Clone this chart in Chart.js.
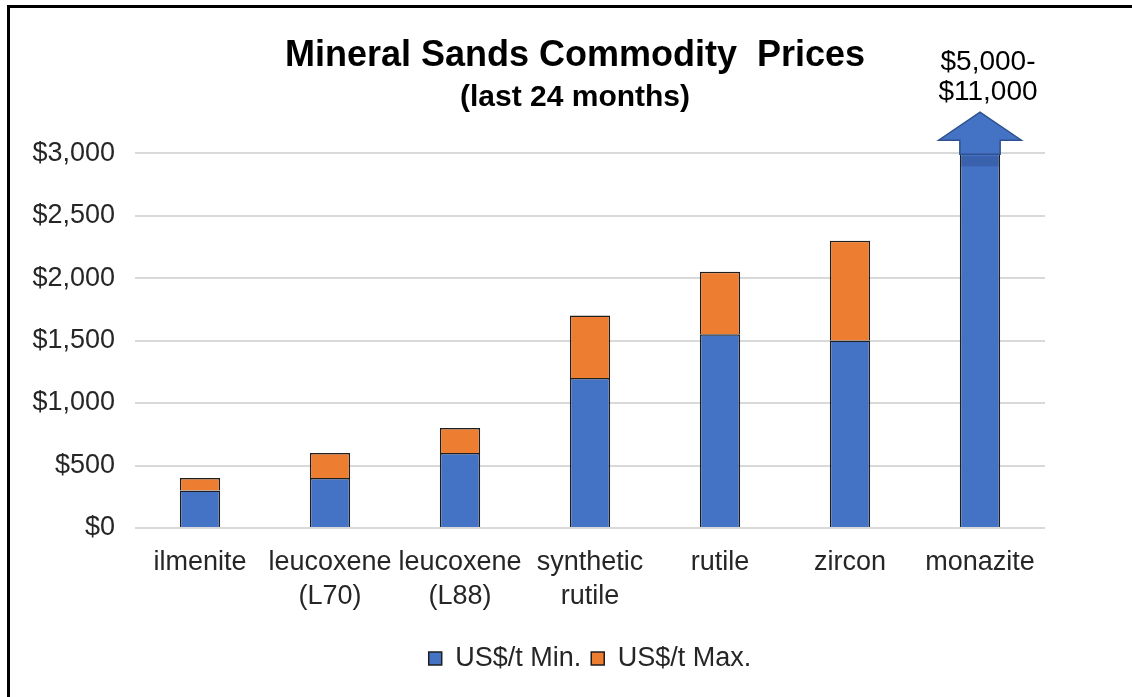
<!DOCTYPE html>
<html>
<head>
<meta charset="utf-8">
<script src="https://cdn.jsdelivr.net/npm/chart.js@4.4.1/dist/chart.umd.min.js"></script>
<style>
  html, body { margin: 0; padding: 0; background: #fff; }
  #wrap { width: 1132px; height: 697px; position: relative; }
</style>
</head>
<body>
<div id="wrap"><canvas id="c" width="1132" height="697"></canvas></div>
<script>
const categories = ['ilmenite', ['leucoxene', '(L70)'], ['leucoxene', '(L88)'], ['synthetic', 'rutile'], 'rutile', 'zircon', 'monazite'];
const minPrices = [300, 400, 600, 1200, 1550, 1500, 5000];
const maxPrices = [400, 600, 800, 1700, 2050, 2300, 11000];
const yTickValues = [0, 500, 1000, 1500, 2000, 2500, 3000];
const seriesNames = ['US$/t Min.', 'US$/t Max.'];
const titleText = 'Mineral Sands Commodity  Prices';
const subtitleText = '(last 24 months)';

const FONT = "'Liberation Sans', Arial, sans-serif";
const BLUE = '#4472C4';
const ORANGE = '#ED7D31';
const fmt = v => '$' + Number(v).toLocaleString('en-US');

const frame = {
  id: 'frame',
  beforeDraw(chart) {
    const ctx = chart.ctx;
    ctx.save();
    ctx.fillStyle = '#fff';
    ctx.fillRect(0, 0, chart.width, chart.height);
    ctx.fillStyle = '#000';
    ctx.fillRect(7, 5, 3, chart.height - 5);
    ctx.fillRect(7, 5, chart.width - 7, 3);
    ctx.restore();
  }
};

const overflowArrow = {
  id: 'overflowArrow',
  afterDatasetsDraw(chart) {
    const meta = chart.getDatasetMeta(0);
    const yScale = chart.scales.y;
    const ctx = chart.ctx;
    meta.data.forEach((bar, i) => {
      if (minPrices[i] <= yScale.max) return;
      const top = chart.chartArea.top;
      const half = bar.width / 2;
      const x = bar.x;
      const headHalf = half * 2.05;
      const shaftTop = top - 13;
      const tip = top - 41;
      ctx.save();
      ctx.beginPath();
      ctx.moveTo(x - half, top + 1);
      ctx.lineTo(x - half, shaftTop);
      ctx.lineTo(x - headHalf, shaftTop);
      ctx.lineTo(x, tip);
      ctx.lineTo(x + headHalf, shaftTop);
      ctx.lineTo(x + half, shaftTop);
      ctx.lineTo(x + half, top + 1);
      ctx.closePath();
      ctx.fillStyle = BLUE;
      ctx.fill();
      ctx.strokeStyle = '#2F528F';
      ctx.lineWidth = 1.5;
      ctx.stroke();
      ctx.fillStyle = 'rgba(40,70,130,0.35)';
      ctx.fillRect(x - half + 1, top + 3, bar.width - 2, 10);
      ctx.fillStyle = '#000';
      ctx.font = '28px ' + FONT;
      ctx.textAlign = 'center';
      ctx.textBaseline = 'middle';
      ctx.fillText(fmt(minPrices[i]) + '-', x + 8, tip - 50);
      ctx.fillText(fmt(maxPrices[i]), x + 8, tip - 20);
      ctx.restore();
    });
  }
};

new Chart(document.getElementById('c'), {
  type: 'bar',
  data: {
    labels: categories,
    datasets: [
      {
        label: seriesNames[0],
        data: minPrices,
        backgroundColor: BLUE,
        borderColor: '#1f1f1f',
        borderWidth: 1.5,
        grouped: false,
        clip: 0
      },
      {
        label: seriesNames[1],
        data: minPrices.map((m, i) => [m, maxPrices[i]]),
        backgroundColor: ORANGE,
        borderColor: '#1f1f1f',
        borderWidth: 1.5,
        grouped: false,
        clip: 0
      }
    ]
  },
  options: {
    responsive: false,
    animation: false,
    devicePixelRatio: 1,
    categoryPercentage: 1,
    barPercentage: 0.31,
    layout: { padding: { left: 18, right: 0, top: 10, bottom: 15 } },
    plugins: {
      title: {
        display: true,
        text: titleText,
        color: '#000',
        font: { family: FONT, size: 36, weight: 'bold' },
        padding: { top: 24, bottom: 0 }
      },
      subtitle: {
        display: true,
        text: subtitleText,
        color: '#000',
        font: { family: FONT, size: 30, weight: 'bold' },
        padding: { top: 3, bottom: 37 }
      },
      legend: {
        position: 'bottom',
        fullSize: false,
        labels: {
          color: '#262626',
          font: { family: FONT, size: 27 },
          boxWidth: 13,
          boxHeight: 13,
          padding: 10
        }
      },
      tooltip: { enabled: false }
    },
    scales: {
      x: {
        grid: { display: false },
        border: { display: false },
        ticks: {
          color: '#262626',
          font: { family: FONT, size: 27, lineHeight: 1.26 },
          padding: 10,
          maxRotation: 0,
          autoSkip: false
        },
        afterFit(scale) { scale.height += 11; }
      },
      y: {
        min: 0,
        max: 3000,
        grid: { color: '#d9d9d9', lineWidth: 2, drawTicks: false },
        border: { display: false },
        afterBuildTicks(scale) { scale.ticks = yTickValues.map(v => ({ value: v })); },
        afterFit(scale) { scale.width = 117; },
        ticks: {
          color: '#262626',
          font: { family: FONT, size: 27 },
          padding: 20,
          callback: v => fmt(v)
        }
      },
      y2: {
        position: 'right',
        display: true,
        min: 0,
        max: 1,
        grid: { display: false, drawOnChartArea: false },
        border: { display: false },
        ticks: { display: false },
        afterFit(scale) { scale.width = 87; }
      }
    }
  },
  plugins: [frame, overflowArrow]
});
</script>
</body>
</html>
